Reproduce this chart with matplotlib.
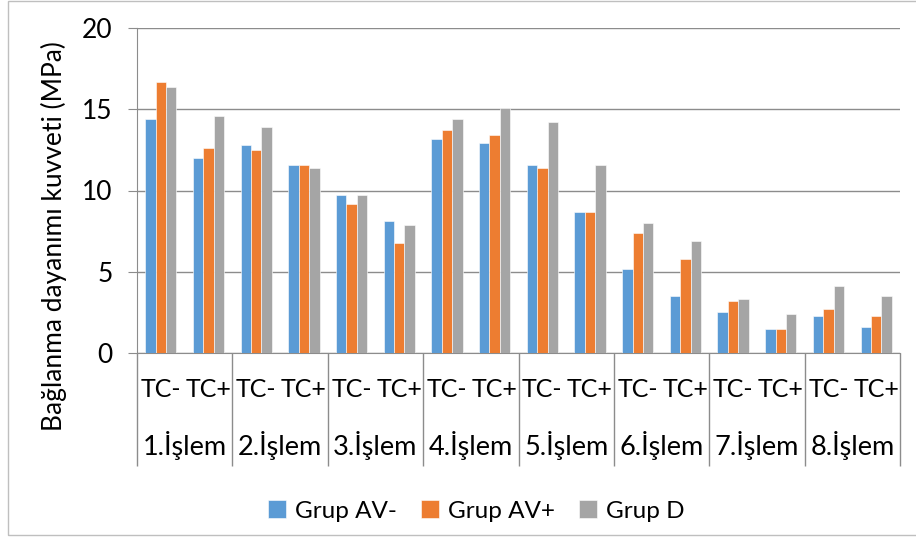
import numpy as np
import matplotlib.pyplot as plt
import matplotlib.transforms as mtransforms
from matplotlib.patches import Rectangle

plt.rcParams['font.family'] = ['Lato', 'DejaVu Sans']

series = ['Grup AV-', 'Grup AV+', 'Grup D']
colors = ['#5B9BD5', '#ED7D31', '#A5A5A5']
sub_labels = ['TC-', 'TC+'] * 8
group_labels = ['1.İşlem', '2.İşlem', '3.İşlem', '4.İşlem',
                '5.İşlem', '6.İşlem', '7.İşlem', '8.İşlem']

av_minus = [14.4, 12.0, 12.8, 11.6, 9.7, 8.1, 13.2, 12.9,
            11.6, 8.7, 5.2, 3.5, 2.5, 1.5, 2.3, 1.6]
av_plus = [16.7, 12.6, 12.5, 11.6, 9.2, 6.8, 13.7, 13.4,
           11.4, 8.7, 7.4, 5.8, 3.2, 1.5, 2.7, 2.3]
grup_d = [16.4, 14.6, 13.9, 11.4, 9.7, 7.9, 14.4, 15.1,
          14.2, 11.6, 8.0, 6.9, 3.3, 2.4, 4.1, 3.5]

fig = plt.figure(figsize=(9.16, 5.37), dpi=100)
ax = fig.add_axes([137/916, 1-353/537, 763/916, 325/537])

x = np.arange(len(sub_labels))
w = 0.218
for i, (vals, c, name) in enumerate(zip([av_minus, av_plus, grup_d], colors, series)):
    ax.bar(x + (i - 1) * w, vals, w, color=c, edgecolor='white', linewidth=0.4,
           label=name, zorder=3)

ax.set_xlim(-0.5, len(sub_labels) - 0.5)
ax.set_ylim(0, 20)
ax.set_yticks([0, 5, 10, 15, 20])
ax.yaxis.grid(True, color='#8C8C8C', linewidth=1.0, zorder=0)
ax.tick_params(axis='y', length=6.5, color='#8C8C8C', labelsize=19, pad=11)

ax.set_xticks(x)
ax.set_xticklabels(sub_labels, fontsize=18)
ax.tick_params(axis='x', which='major', length=0, pad=18)
bounds = np.arange(-0.5, len(sub_labels), 2)
ax.set_xticks(bounds, minor=True)
ax.tick_params(axis='x', which='minor', length=81, color='#8C8C8C', width=1.0)

for s in ['top', 'right']:
    ax.spines[s].set_visible(False)
ax.spines['left'].set_color('#8C8C8C')
ax.spines['bottom'].set_color('#8C8C8C')

trans = mtransforms.blended_transform_factory(ax.transData, ax.transAxes)
for k, g in enumerate(group_labels):
    ax.text(2 * k + 0.5, -93/325, g, transform=trans, ha='center', va='center',
            fontsize=19.5)

ax.set_ylabel('Bağlanma dayanımı kuvveti (MPa)', fontsize=19)
ax.yaxis.set_label_coords(-70/763, 0.36)

fig.legend(loc='center', bbox_to_anchor=(476/916, 1 - 511/537), ncol=3, frameon=False,
           fontsize=17.5, handlelength=0.75, handleheight=0.75, handletextpad=0.35,
           columnspacing=1.0)

# chart-area border (open on the right, as in the cropped original)
fig.patches.append(Rectangle((8/916, 2/537), 915/916, 534.5/537, transform=fig.transFigure,
                             fill=False, edgecolor='#BFBFBF', linewidth=1.0))

fig.savefig('out.png', dpi=100)
